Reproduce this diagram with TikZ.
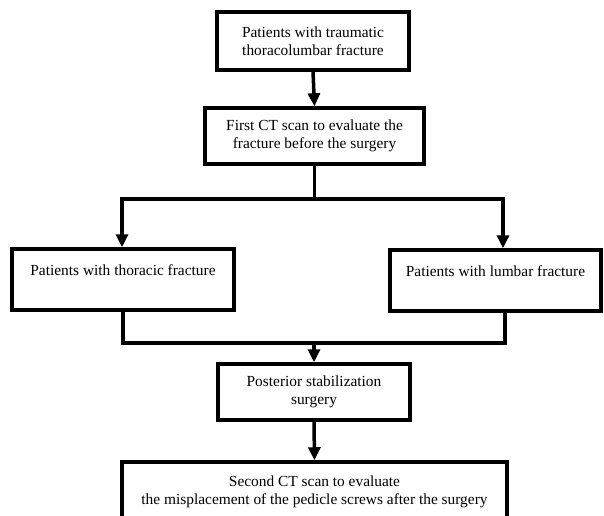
\documentclass[tikz,border=0pt]{standalone}
\usepackage{fontspec}
\setmainfont{Liberation Serif}
\usetikzlibrary{arrows.meta}
\begin{document}
\begin{tikzpicture}[x=1pt,y=-1pt,
  box/.style={draw, line width=3.5pt, inner sep=0pt, align=center,
    font=\fontsize{15.4}{18.5}\selectfont},
  link/.style={line width=3.5pt, line cap=rect},
  arr/.style={line width=3.5pt, -{Triangle[length=13pt,width=12pt]}}]
\useasboundingbox (0,0) rectangle (604,515);
\node[box, minimum width=192pt, minimum height=58pt] (n1) at (313,41)
  {Patients with traumatic\\thoracolumbar fracture};
\node[box, minimum width=219pt, minimum height=56pt] (n2) at (314.5,136)
  {First CT scan to evaluate the\\fracture before the surgery};
\node[box, minimum width=222pt, minimum height=61pt] (n3) at (123,279.5)
  {Patients with thoracic fracture\\~};
\node[box, minimum width=211pt, minimum height=61pt] (n4) at (495.5,280.5)
  {Patients with lumbar fracture\\~};
\node[box, minimum width=192pt, minimum height=56pt] (n5) at (314,392)
  {Posterior stabilization\\surgery};
\node[box, minimum width=385pt, minimum height=60pt] (n6) at (314.5,492)
  {Second CT scan to evaluate\\the misplacement of the pedicle screws after the surgery};
\coordinate (jl) at (122,199);
\coordinate (jr) at (503,199);
\coordinate (ml) at (123,343);
\coordinate (mr) at (505,343);
\draw[arr] (n1.south) -- (n2.north);
\draw[link] (n2.south) -- (n2.south |- jl);
\draw[link] (jl) -- (jr);
\draw[arr] (jl) -- (jl |- n3.north);
\draw[arr] (jr) -- (jr |- n4.north);
\draw[link] (ml |- n3.south) -- (ml) -- (mr) -- (mr |- n4.south);
\draw[arr] (n5.north |- ml) -- (n5.north);
\draw[arr] (n5.south) -- (n6.north);
\end{tikzpicture}
\end{document}
